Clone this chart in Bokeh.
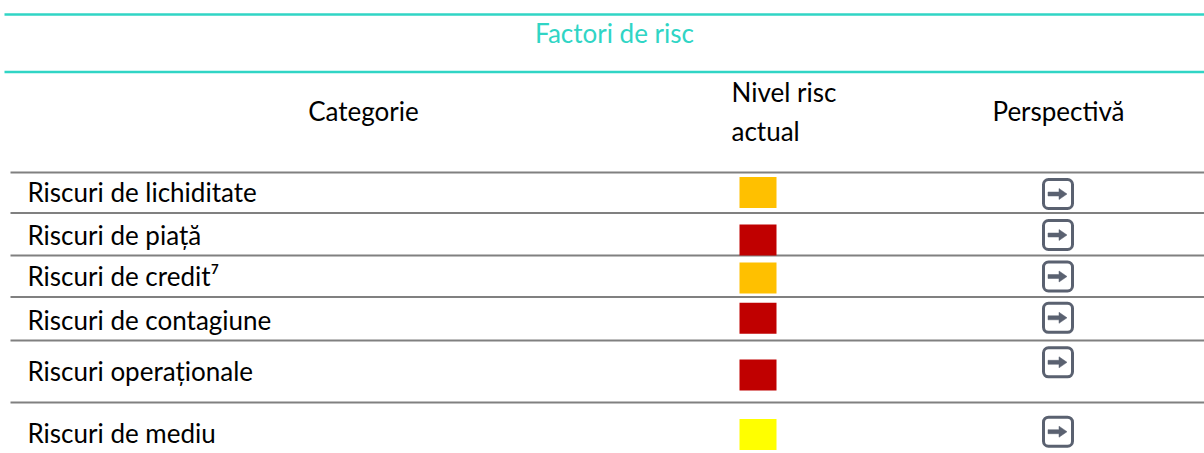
from bokeh.plotting import figure
from bokeh.models import Range1d
from bokeh.core.properties import value
from bokeh.embed import file_html
from bokeh.resources import INLINE

# ---- data ----
title = "Factori de risc"
headers = ["Categorie", "Nivel risc\nactual", "Perspectivă"]
categories = ["Riscuri de lichiditate", "Riscuri de piață", "Riscuri de credit⁷",
              "Riscuri de contagiune", "Riscuri operaționale", "Riscuri de mediu"]
risk_level = ["ridicat", "sever", "ridicat", "sever", "sever", "moderat"]
outlook = ["stabil", "stabil", "stabil", "stabil", "stabil", "stabil"]
level_colors = {"sever": "#C00000", "ridicat": "#FFC000", "moderat": "#FFFF00"}

# ---- layout (pixel space of the page) ----
FONT = value("Lato")
FS = "26px"
TEAL = "#30D5C5"
GREY_RULE = "#808080"
ICON = "#5A6170"
text_base = [191.5, 234, 275.5, 319, 370, 432]
square_y = [192, 239.5, 277.5, 317.7, 374.5, 434]
icon_y = [193.5, 234.5, 276, 317.3, 361.8, 431.2]
rule_y = [172, 212.5, 255, 296.5, 340, 402]

p = figure(width=1204, height=453, output_backend="svg", toolbar_location=None,
           x_range=Range1d(0, 1204), y_range=Range1d(453, 0), min_border=0)
p.axis.visible = False
p.grid.visible = False
p.outline_line_color = None
p.background_fill_color = "white"
p.border_fill_color = "white"

# teal title rules
p.segment(x0=[4, 4], x1=[1204, 1204], y0=[14, 71.5], y1=[14, 71.5],
          line_color=TEAL, line_width=2.5)
p.text(x=[614], y=[32], text=[title], text_font=FONT, text_font_size=FS,
       text_color=TEAL, text_align="center", text_baseline="alphabetic")

# header
p.text(x=[363, 1058], y=[110, 110], text=[headers[0], headers[2]], text_font=FONT,
       text_font_size=FS, text_color="black", text_align="center",
       text_baseline="alphabetic")
nl = headers[1].split("\n")
p.text(x=[731, 731], y=[91, 130], text=nl, text_font=FONT, text_font_size=FS,
       text_color="black", text_align="left", text_baseline="alphabetic")

# row rules
p.segment(x0=[10] * len(rule_y), x1=[1204] * len(rule_y), y0=rule_y, y1=rule_y,
          line_color=GREY_RULE, line_width=2)

# category names
p.text(x=[27] * len(categories), y=text_base, text=categories, text_font=FONT,
       text_font_size=FS, text_color="black", text_align="left",
       text_baseline="alphabetic")

# risk squares
cols = [level_colors[l] for l in risk_level]
p.rect(x=[757.5] * len(categories), y=square_y, width=37, height=31,
       fill_color=cols, line_color=None)

# outlook icons (stable -> right arrow)
n = len(outlook)
cx = 1057.5
p.quad(left=[cx - 14.5] * n, right=[cx + 14.5] * n,
       top=[y - 14.5 for y in icon_y], bottom=[y + 14.5 for y in icon_y],
       fill_color=None, line_color=ICON, line_width=3, border_radius=5)
xs, ys = [], []
for y in icon_y:
    xs.append([cx - 10, cx + 1, cx + 1, cx + 9, cx + 1, cx + 1, cx - 10])
    ys.append([y - 2, y - 2, y - 5.5, y, y + 5.5, y + 2, y + 2])
p.patches(xs=xs, ys=ys, fill_color=ICON, line_color=ICON, line_width=0.5)

open("out.html", "w").write(file_html(p, INLINE))
